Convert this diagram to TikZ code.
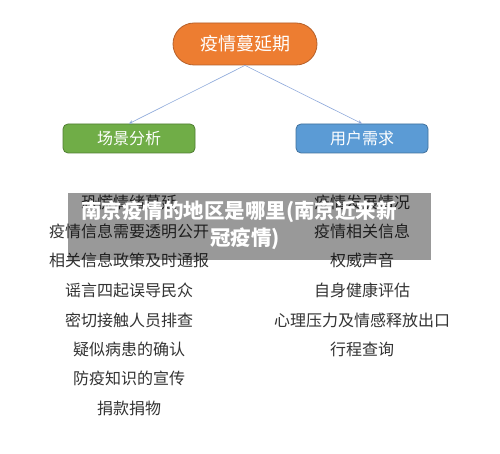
\documentclass[tikz,border=0pt]{standalone}
\usepackage{fontspec}
\setmainfont{Noto Sans CJK SC}
\usetikzlibrary{arrows.meta}
\definecolor{orangeF}{HTML}{ED7D31}
\definecolor{orangeD}{HTML}{B5602A}
\definecolor{greenF}{HTML}{70AD47}
\definecolor{greenD}{HTML}{507E32}
\definecolor{blueF}{HTML}{5B9BD5}
\definecolor{blueD}{HTML}{41719C}
\definecolor{lineC}{HTML}{8EA9DB}
\definecolor{txtC}{HTML}{333333}
\tikzset{
  topbox/.style={draw=orangeD, fill=orangeF, line width=0.8pt, rounded corners=21pt,
    minimum width=144pt, minimum height=42pt, text=white, font=\fontsize{18}{20}\selectfont, inner sep=0pt},
  catbox/.style={line width=0.8pt, rounded corners=5pt, minimum width=132pt, minimum height=29pt,
    text=white, font=\fontsize{16}{18}\selectfont, inner sep=0pt},
  item/.style={text=txtC, font=\fontsize{16}{18}\selectfont, inner sep=0pt},
  conn/.style={draw=lineC, line width=0.6pt, -{Stealth[length=4pt,width=3.5pt]}},
  overlay/.style={fill=black, fill opacity=0.4, draw=none},
  ovtext/.style={text=white, font=\bfseries\fontsize{20.5}{22}\selectfont, inner sep=0pt}
}
\begin{document}
\begin{tikzpicture}[x=1pt,y=-1pt]
\useasboundingbox[fill=white] (0,0) rectangle (500,454);
\node[topbox] (top) at (245,44) {疫情蔓延期};
\node[catbox, draw=greenD, fill=greenF] (scene) at (129,138.5) {场景分析};
\node[catbox, draw=blueD, fill=blueF] (need) at (362,138.5) {用户需求};
\draw[conn] (top.south) -- (scene.north);
\draw[conn] (top.south) -- (need.north);
% left column
\node[item] (l1) at (129,202) {恐慌情绪蔓延};
\node[item] (l2) at (129,231) {疫情信息需要透明公开};
\node[item] (l3) at (129,260) {相关信息政策及时通报};
\node[item] (l4) at (129,290) {谣言四起误导民众};
\node[item] (l5) at (129,320) {密切接触人员排查};
\node[item] (l6) at (129,349) {疑似病患的确认};
\node[item] (l7) at (129,378) {防疫知识的宣传};
\node[item] (l8) at (129,408) {捐款捐物};
% right column
\node[item] (r1) at (362,202) {疫情发展情况};
\node[item] (r2) at (362,231) {疫情相关信息};
\node[item] (r3) at (362,260) {权威声音};
\node[item] (r4) at (362,290) {自身健康评估};
\node[item] (r5) at (362,320) {心理压力及情感释放出口};
\node[item] (r6) at (362,349) {行程查询};
% overlay banner
\path[overlay] (68,193) rectangle (431,260);
\node[ovtext] (ov1) at (239,212) {南京疫情的地区是哪里(南京近来新};
\node[ovtext] (ov2) at (245,239) {冠疫情)};
\end{tikzpicture}
\end{document}
